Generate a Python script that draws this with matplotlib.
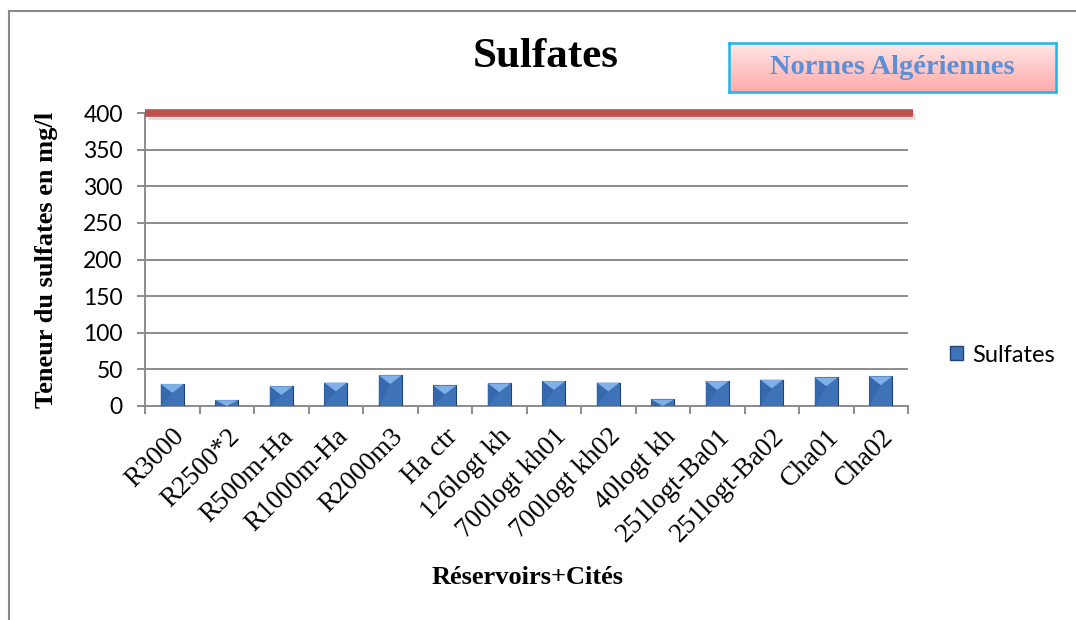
import matplotlib
matplotlib.use("Agg")
import matplotlib.pyplot as plt
import numpy as np
from matplotlib.patches import Polygon, Rectangle
from matplotlib.lines import Line2D
from matplotlib.colors import LinearSegmentedColormap

categories = ["R3000", "R2500*2", "R500m-Ha", "R1000m-Ha", "R2000m3", "Ha ctr",
              "126logt kh", "700logt kh01", "700logt kh02", "40logt kh",
              "251logt-Ba01", "251logt-Ba02", "Cha01", "Cha02"]
sulfates = [30, 8, 27, 32, 42, 28, 31, 34, 32, 9, 34, 36, 39, 40.5]
norme = 400
yticks = [0, 50, 100, 150, 200, 250, 300, 350, 400]

SERIF = "Liberation Serif"
SANS = "Lato"

W, H = 1076, 620
fig = plt.figure(figsize=(W / 100, H / 100), dpi=100)

def fx(px):
    return px / W

def fy(py):
    return 1 - py / H

ax = fig.add_axes([fx(145), fy(406), fx(908) - fx(145), fy(113) - fy(406)])
x = np.arange(len(categories))
bw = 0.42
bars = ax.bar(x, sulfates, width=bw, color="#3f73b8", edgecolor="#1d4478",
              linewidth=0.8, zorder=3, label="Sulfates")
# bevel highlight (top inverted triangle) derived from bar geometry
for b in bars:
    bx, bwid, bh = b.get_x(), b.get_width(), b.get_height()
    d = min(bh, 12)
    tri = Polygon([(bx, bh), (bx + bwid, bh), (bx + bwid / 2, bh - d)],
                  closed=True, facecolor="#7fb0ea", edgecolor="none", zorder=4)
    ax.add_patch(tri)
    ax.add_patch(Polygon([(bx, bh), (bx + bwid / 2, bh - d), (bx, 0)],
                         closed=True, facecolor="#3568ad", edgecolor="none", zorder=3.5))

ax.set_xlim(-0.5, len(categories) - 0.5)
ax.set_ylim(0, 400)
ax.set_yticks(yticks)
ax.set_yticklabels([str(v) for v in yticks], fontsize=16.5, family=SANS)
ax.yaxis.grid(True, color="#8c8c8c", linewidth=1.4, zorder=0)
ax.set_axisbelow(True)
ax.set_xticks(np.arange(-0.5, len(categories), 1.0))
ax.set_xticklabels([])
ax.set_xticks(x, minor=True)
ax.set_xticklabels(categories, minor=True, rotation=45, ha="right",
                   rotation_mode="anchor", fontsize=19.5, family=SERIF)
ax.tick_params(axis="x", which="minor", length=0, pad=13)
ax.tick_params(axis="x", which="major", length=6, color="#8c8c8c", width=1.4)
ax.tick_params(axis="y", length=6, color="#8c8c8c", width=1.4, pad=10)
for s in ["top", "right"]:
    ax.spines[s].set_visible(False)
for s in ["left", "bottom"]:
    ax.spines[s].set_color("#8c8c8c")
    ax.spines[s].set_linewidth(1.4)

# norm line with a soft shadow
ax.plot([-0.45, 13.62], [norme - 3.5, norme - 3.5], color="#c8c8c8", linewidth=5,
        alpha=0.6, solid_capstyle="butt", clip_on=False, zorder=5)
ax.plot([-0.5, 13.59], [norme, norme], color="#c0504d", linewidth=5.5,
        solid_capstyle="butt", clip_on=False, zorder=6)

ax.set_ylabel("Teneur du sulfates en mg/l", family=SERIF, fontweight="bold",
              fontsize=19)
axw = fx(908) - fx(145)
ax.yaxis.set_label_coords((fx(58) - fx(145)) / axw, 0.5)
fig.text(fx(528), fy(578), "Réservoirs+Cités", family=SERIF, fontweight="bold",
         fontsize=19, ha="center", va="center")
fig.text(fx(546), fy(57), "Sulfates", family=SERIF, fontweight="bold",
         fontsize=31, ha="center", va="center")

# Normes box
bax = fig.add_axes([fx(729), fy(92), fx(1056) - fx(729), fy(43) - fy(92)])
grad = np.linspace(0, 1, 100).reshape(-1, 1)
cm = LinearSegmentedColormap.from_list("pk", ["#ffe6e6", "#ffabab"])
bax.imshow(grad, aspect="auto", cmap=cm, extent=[0, 1, 0, 1], origin="upper")
bax.set_xticks([]); bax.set_yticks([])
for s in bax.spines.values():
    s.set_color("#1fb4ea"); s.set_linewidth(1.8)
bax.text(0.5, 0.5, "Normes Algériennes", family=SERIF, fontweight="bold",
         fontsize=20.5, color="#5b8fd6", ha="center", va="center", transform=bax.transAxes)

# Legend
h = Rectangle((0, 0), 1, 1, facecolor="#3f73b8", edgecolor="#1d4478")
fig.legend([h], ["Sulfates"], loc="center left", bbox_to_anchor=(fx(929), fy(355)),
           frameon=False, prop={"family": SANS, "size": 17}, handlelength=0.52,
           handleheight=0.52, handletextpad=0.4)

# outer frame (top and left)
fig.add_artist(Line2D([fx(8.5), fx(8.5)], [0, fy(11)], color="#888888", linewidth=1.5))
fig.add_artist(Line2D([fx(8.5), 1], [fy(11), fy(11)], color="#888888", linewidth=1.5))

fig.savefig("out.png", dpi=100)
